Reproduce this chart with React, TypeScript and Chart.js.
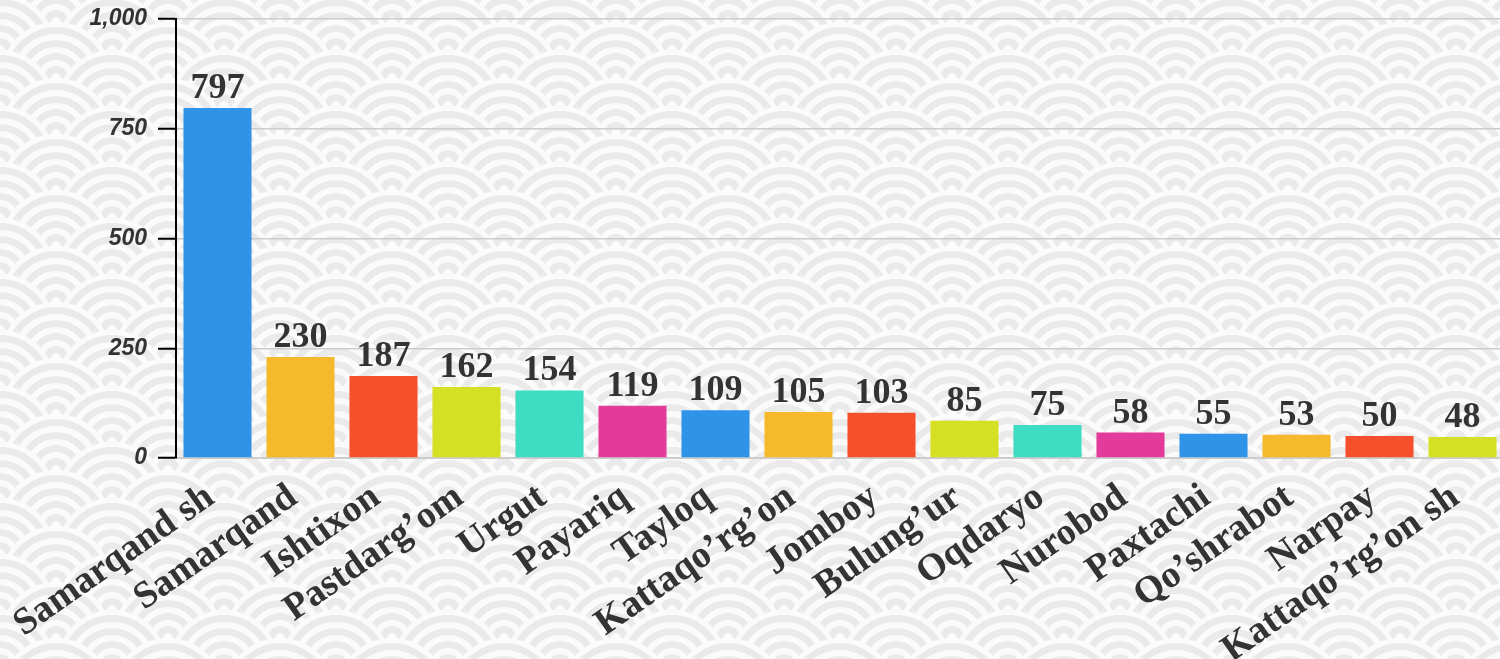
import React, { useEffect, useRef } from "react";
import { Chart, registerables } from "chart.js";

Chart.register(...registerables);

const categories: string[] = [
  "Samarqand sh",
  "Samarqand",
  "Ishtixon",
  "Pastdarg’om",
  "Urgut",
  "Payariq",
  "Tayloq",
  "Kattaqo’rg’on",
  "Jomboy",
  "Bulung’ur",
  "Oqdaryo",
  "Nurobod",
  "Paxtachi",
  "Qo’shrabot",
  "Narpay",
  "Kattaqo’rg’on sh",
];

const values: number[] = [797, 230, 187, 162, 154, 119, 109, 105, 103, 85, 75, 58, 55, 53, 50, 48];

const palette: string[] = ["#2f93e8", "#f6b92b", "#f5502b", "#d5df23", "#3ddcc3", "#e33b9a"];

const yTicks: number[] = [0, 250, 500, 750, 1000];

const W = 1504;
const H = 659;

const seigaihaPlugin = {
  id: "seigaiha",
  beforeDraw(chart: any) {
    const ctx = chart.ctx as CanvasRenderingContext2D;
    const R = 56;
    const period = 112;
    const rowH = 28;
    const grey = "#eaeaea";
    const white = "#fbfbfb";
    const bands: [number, string][] = [
      [56, white],
      [51, grey],
      [44, white],
      [38, grey],
      [31, white],
      [25, grey],
      [18, white],
      [12, grey],
      [5, white],
    ];
    ctx.save();
    ctx.fillStyle = white;
    ctx.fillRect(0, 0, chart.width, chart.height);
    const y0 = 50;
    for (let m = -4; m * rowH + y0 < chart.height + R + rowH; m++) {
      const cy = y0 + m * rowH;
      const off = ((m % 2) + 2) % 2 === 1 ? period / 2 : 0;
      for (let cx = off - period; cx < chart.width + period; cx += period) {
        for (const [r, c] of bands) {
          ctx.beginPath();
          ctx.arc(cx, cy, r, 0, Math.PI * 2);
          ctx.fillStyle = c;
          ctx.fill();
        }
      }
    }
    ctx.restore();
  },
};

const valueLabelPlugin = {
  id: "valueLabels",
  afterDatasetsDraw(chart: any) {
    const ctx = chart.ctx as CanvasRenderingContext2D;
    const meta = chart.getDatasetMeta(0);
    ctx.save();
    ctx.font = "bold 36px 'Liberation Serif', 'Times New Roman', serif";
    ctx.fillStyle = "#333333";
    ctx.textAlign = "center";
    ctx.textBaseline = "alphabetic";
    meta.data.forEach((bar: any, i: number) => {
      ctx.fillText(String(values[i]), bar.x, bar.y - 10);
    });
    ctx.restore();
  },
};

export default function App() {
  const canvasRef = useRef<HTMLCanvasElement | null>(null);

  useEffect(() => {
    const canvas = canvasRef.current;
    if (!canvas) return;
    const chart = new Chart(canvas, {
      type: "bar",
      data: {
        labels: categories,
        datasets: [
          {
            data: values,
            backgroundColor: categories.map((_, i) => palette[i % palette.length]),
            borderWidth: 0,
            barPercentage: 0.82,
            categoryPercentage: 1,
          },
        ],
      },
      options: {
        animation: false,
        responsive: false,
        maintainAspectRatio: false,
        layout: { padding: { top: 19, left: 0, right: 0, bottom: 0 } },
        plugins: {
          legend: { display: false },
          tooltip: { enabled: false },
        },
        scales: {
          x: {
            grid: { display: false, drawTicks: false },
            border: { display: true, color: "#cccccc", width: 2 },
            ticks: {
              autoSkip: false,
              minRotation: 35,
              maxRotation: 35,
              padding: 17,
              labelOffset: -7,
              color: "#333333",
              font: { family: "'Liberation Serif', 'Times New Roman', serif", size: 38, weight: "bold" },
            },
            afterFit: (s: any) => {
              s.height = H - 458;
              s.paddingLeft = 0;
              s.paddingRight = 0;
            },
          },
          y: {
            min: 0,
            max: 1000,
            afterBuildTicks: (s: any) => {
              s.ticks = yTicks.map((v) => ({ value: v }));
            },
            grid: {
              color: "#cccccc",
              lineWidth: 1.5,
              tickColor: "#000000",
              tickLength: 18,
              tickWidth: 2,
            },
            border: { display: true, color: "#000000", width: 2 },
            ticks: {
              padding: 11,
              color: "#333333",
              font: { family: "'Liberation Sans', Arial, sans-serif", size: 23, weight: "bold", style: "italic" },
            },
            afterFit: (s: any) => {
              s.width = 176;
              s.paddingTop = 0;
              s.paddingBottom = 0;
            },
          },
        },
      },
      plugins: [seigaihaPlugin, valueLabelPlugin],
    });
    return () => chart.destroy();
  }, []);

  return (
    <div style={{ position: "fixed", left: 0, top: 0, width: 1500, height: H, overflow: "hidden" }}>
      <canvas ref={canvasRef} width={W} height={H} style={{ display: "block", width: W, height: H }} />
    </div>
  );
}
